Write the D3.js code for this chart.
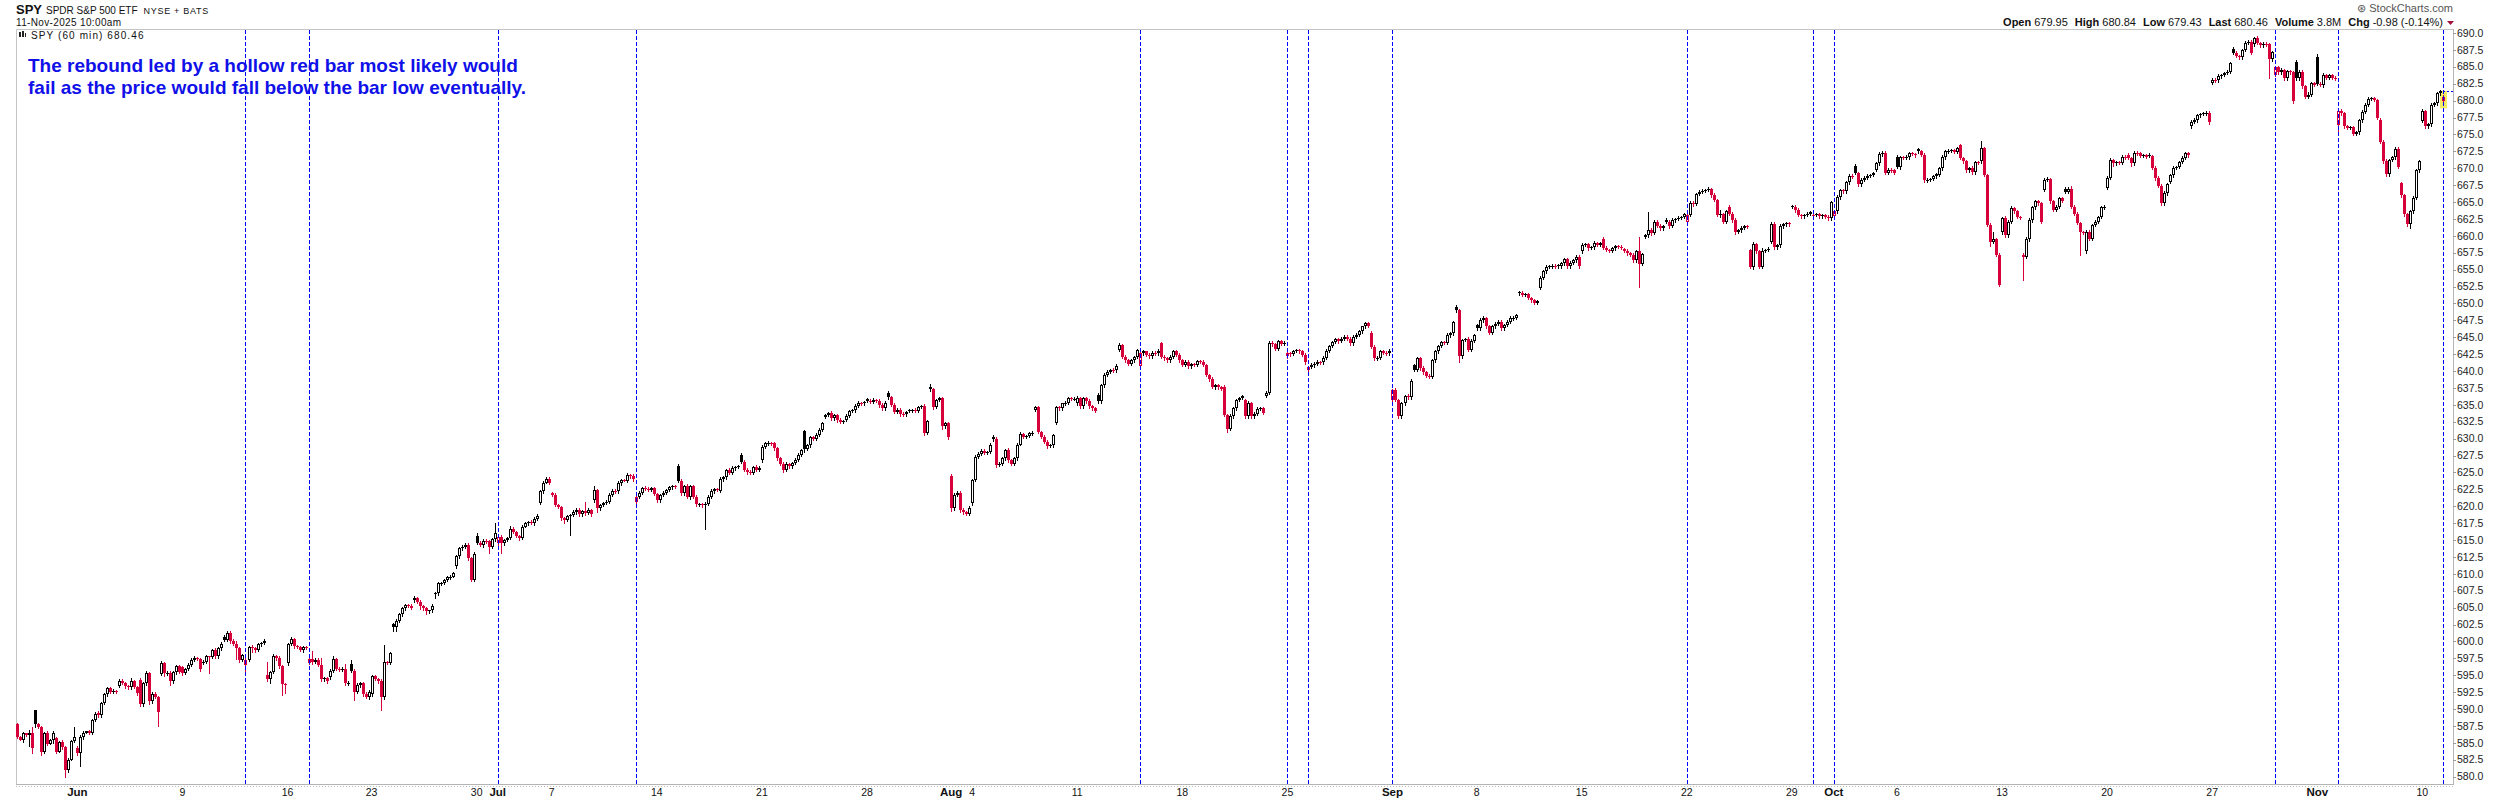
<!DOCTYPE html>
<html>
<head>
<meta charset="utf-8">
<script src="https://cdn.jsdelivr.net/npm/d3@7"></script>
<style>
  body { margin: 0; background: #fff; }
  svg text { font-family: "Liberation Sans", Arial, sans-serif; }
</style>
</head>
<body>
<div class="chart"></div>
<script>
// trading sessions shown (2025), one row of hourly bars per session
const sessionDates = ["05-28","05-29","05-30",
  "06-02","06-03","06-04","06-05","06-06","06-09","06-10","06-11","06-12","06-13","06-16","06-17","06-18","06-20","06-23","06-24","06-25","06-26","06-27","06-30",
  "07-01","07-02","07-03","07-07","07-08","07-09","07-10","07-11","07-14","07-15","07-16","07-17","07-18","07-21","07-22","07-23","07-24","07-25","07-28","07-29","07-30","07-31",
  "08-01","08-04","08-05","08-06","08-07","08-08","08-11","08-12","08-13","08-14","08-15","08-18","08-19","08-20","08-21","08-22","08-25","08-26","08-27","08-28","08-29",
  "09-02","09-03","09-04","09-05","09-08","09-09","09-10","09-11","09-12","09-15","09-16","09-17","09-18","09-19","09-22","09-23","09-24","09-25","09-26","09-29","09-30",
  "10-01","10-02","10-03","10-06","10-07","10-08","10-09","10-10","10-13","10-14","10-15","10-16","10-17","10-20","10-21","10-22","10-23","10-24","10-27","10-28","10-29","10-30","10-31",
  "11-03","11-04","11-05","11-06","11-07","11-10","11-11"];

// open of the first bar of each session (later bars open at the previous close)
const sessionOpens = [587.8,589.8,585.7,
  584.3,589.4,593.4,594.3,595.2,596.2,596.8,600.7,596.5,595.0,596.8,596.8,594.8,596.7,592.3,602.6,606.1,607.1,611.1,615.6,
  614.5,615.6,620.5,621.9,618.7,620.9,622.3,620.7,621.8,625.9,620.3,622.3,627.6,626.8,626.3,631.1,633.2,632.8,635.8,636.7,634.2,637.7,
  624.5,620.5,630.3,626.3,634.3,632.3,635.2,636.5,643.1,640.8,644.1,641.6,641.4,637.7,635.7,636.3,642.2,640.2,643.0,644.8,645.7,
  635.7,640.9,641.6,649.5,646.8,647.0,651.7,652.3,655.5,657.7,659.6,658.0,659.9,662.4,662.1,667.0,664.3,657.9,659.1,664.4,663.0,
  663.0,670.3,669.8,671.6,672.8,669.0,673.4,671.0,660.5,657.2,666.8,667.0,657.7,667.1,672.0,672.0,668.0,676.2,682.6,687.7,688.3,683.8,685.7,
  686.4,676.4,675.3,677.2,667.8,677.0,679.95];

// hourly closes
const closesMay = [
  [585.9,585.5,586.4,586.2,586.4,584.2],
  [587.8,587.4,583.7,586.4,584.9,585.4,586.5],
  [583.7,585.2,584.4,581.0,582.5,585.3,585.9]];
const closesJun = [
  [583.5,585.8,586.5,586.7,586.5,588.4,589.3],
  [589.1,590.9,592.2,593.1,592.6,592.7,592.6],
  [594.2,593.9,593.4,593.2,594.1,593.3,592.4],
  [590.8,593.8,595.3,591.2,592.3,591.8,589.5],
  [596.8,595.3,595.4,594.1,595.5,596.3,595.5],
  [595.4,595.9,596.5,597.3,597.5,597.4,596.0],
  [597.0,597.8,597.7,598.7,597.8,599.0,599.7],
  [600.2,601.2,600.0,599.7,599.0,597.3,598.0],
  [597.3,599.2,599.0,598.8,599.6,599.8,600.1],
  [594.5,595.5,597.8,597.5,596.3,593.7,593.6],
  [599.6,600.3,599.3,599.2,598.8,599.2,599.1],
  [597.4,597.0,597.3,596.5,594.5,594.6,594.1],
  [595.7,597.4,596.0,595.9,596.0,593.8,593.9],
  [595.7,592.6,593.6,593.8,592.3,591.8,592.6],
  [594.9,594.5,594.1,591.8,596.9,596.8,598.3],
  [602.2,603.1,604.0,604.9,605.4,605.3,605.0],
  [606.4,605.9,605.2,604.9,604.5,604.6,605.3],
  [607.1,608.6,608.7,609.1,609.5,609.6,610.1],
  [612.6,613.8,614.0,614.3,612.3,609.1,613.0],
  [614.6,614.3,614.9,614.8,614.0,615.1,616.1]];
const closesJul = [
  [615.5,614.5,615.0,615.3,616.7,616.2,615.6],
  [615.3,617.0,617.5,617.7,617.5,618.1,618.6],
  [622.2,623.5,624.1,623.5],
  [621.7,620.2,619.9,618.2,618.0,618.5,618.7],
  [619.2,619.5,618.8,619.3,619.0,619.4,618.8],
  [622.4,619.7,620.2,620.5,620.7,621.7,622.3],
  [622.2,623.4,623.9,623.8,624.6,624.5,624.0],
  [621.4,622.0,622.7,622.6,622.4,622.7,621.8],
  [620.9,621.7,622.0,622.4,622.8,623.0,622.9],
  [623.8,621.9,623.0,621.4,623.0,621.4,620.3],
  [620.3,620.2,620.4,621.4,622.2,622.5,622.4],
  [624.1,624.3,625.4,624.9,625.6,625.8,625.9],
  [626.6,625.4,625.1,624.9,625.8,625.4,625.7],
  [628.8,629.3,629.4,629.3,628.6,627.1,626.3],
  [625.4,626.2,625.9,626.4,626.9,627.6,628.3],
  [628.5,629.0,630.2,630.0,630.6,631.3,632.3],
  [633.5,633.8,633.0,633.5,632.8,632.5,632.6],
  [633.4,634.1,634.2,634.9,635.3,635.2,635.4],
  [635.6,635.4,635.7,635.6,635.0,634.5,635.3],
  [636.1,635.0,634.0,634.3,633.7,633.6,633.9],
  [634.2,634.3,634.1,634.7,634.8,630.9,632.6],
  [637.3,634.7,635.7,636.0,631.8,632.3,630.2]];
const closesAug = [
  [619.7,621.7,622.0,619.4,619.1,618.9,619.8],
  [623.9,627.3,627.8,628.2,627.9,628.1,629.1],
  [629.9,626.1,626.3,627.1,628.3,626.8,626.3],
  [627.1,629.1,630.7,630.3,630.4,630.8,630.9],
  [634.7,631.0,630.3,629.5,628.9,629.0,630.5],
  [634.7,634.5,635.2,635.3,636.0,635.9,635.9],
  [636.0,634.8,636.0,635.5,634.8,634.5,634.1],
  [635.5,637.9,639.4,639.9,640.2,640.1,640.8],
  [643.8,642.1,641.6,641.1,641.6,642.1,643.1],
  [642.6,642.9,642.4,642.2,642.7,642.6,643.0],
  [642.1,641.9,641.6,642.1,642.9,642.4,641.6],
  [640.9,641.4,640.7,641.0,640.9,641.5,641.4],
  [640.9,639.4,638.8,637.7,637.9,637.6,637.4],
  [633.5,631.5,633.3,634.5,635.7,636.0,636.3],
  [633.3,635.2,633.3,633.7,634.4,634.5,633.8],
  [636.8,644.2,644.0,643.3,644.4,644.0,644.1],
  [642.6,642.5,643.0,643.1,642.9,642.4,641.3],
  [640.6,640.9,641.1,641.4,641.3,642.0,643.0],
  [643.7,644.3,644.7,644.5,644.8,645.1,644.8],
  [644.1,645.1,645.4,645.9,646.6,647.1,646.7],
  [643.6,641.9,642.0,642.9,642.7,642.6,643.0]];
const closesSep = [
  [637.2,635.7,633.3,635.2,636.3,636.1,638.6],
  [640.2,641.9,640.4,639.8,639.3,639.1,641.6],
  [642.9,643.7,644.3,644.2,645.3,645.6,647.2],
  [649.0,642.2,644.6,644.7,643.1,644.5,645.3],
  [646.3,647.6,647.8,646.6,645.7,646.6,647.0],
  [647.3,646.3,646.8,647.3,647.8,647.9,648.3],
  [651.5,651.3,651.4,650.8,650.5,650.1,650.3],
  [653.8,654.8,655.4,655.5,655.6,655.5,655.7],
  [656.0,656.5,655.5,656.0,656.4,656.9,655.5],
  [658.7,658.8,658.2,658.3,658.9,658.7,658.9],
  [658.2,657.9,657.8,658.2,658.5,658.4,658.2],
  [657.8,657.4,657.2,656.4,657.7,655.9,657.3],
  [660.1,660.9,660.4,662.1,661.5,661.1,661.4],
  [662.1,661.5,662.3,662.5,662.7,662.8,663.2],
  [663.1,664.9,664.7,666.2,666.5,666.7,666.8],
  [666.9,666.1,665.3,663.1,663.2,662.1,663.6],
  [663.3,662.3,660.6,660.8,661.2,661.4,661.3],
  [655.4,658.8,657.7,655.4,657.8,657.9,658.1],
  [661.8,658.3,658.6,661.4,661.7,661.9,661.7],
  [664.3,663.8,663.1,662.9,663.1,663.3,663.5],
  [663.1,663.2,662.9,663.1,662.8,662.6,665.0]];
const closesOct = [
  [663.6,665.7,666.8,666.6,667.9,668.9,668.7],
  [669.3,667.6,668.3,668.6,668.9,669.0,669.3],
  [670.7,672.1,672.3,669.3,669.8,669.7,669.3],
  [670.2,671.6,671.5,671.7,672.2,672.1,671.9],
  [672.5,672.0,668.2,668.3,668.4,668.8,669.1],
  [670.0,671.6,672.5,672.6,672.7,672.4,673.0],
  [671.5,671.0,669.7,670.0,669.4,670.9,670.8],
  [673.0,669.0,661.6,659.1,659.5,657.2,652.8],
  [662.6,660.1,662.1,664.1,663.6,662.8,662.7],
  [656.9,659.6,662.3,664.2,665.1,664.8,662.1],
  [668.3,668.4,665.1,663.8,664.3,665.6,665.2],
  [666.5,667.0,664.3,663.3,661.9,660.5,660.4],
  [660.6,659.6,661.6,662.1,662.8,664.2,664.3],
  [668.6,671.2,670.7,670.9,670.8,671.7,671.6],
  [671.5,670.7,672.3,672.2,671.8,671.9,671.7],
  [671.8,670.1,668.6,667.4,664.8,666.3,667.6],
  [669.0,670.1,670.2,670.9,671.5,672.2,671.9],
  [676.9,677.1,677.8,678.0,678.1,678.2,676.8],
  [683.1,683.0,683.6,683.8,684.1,684.3,685.5],
  [687.1,686.6,686.4,687.5,688.5,688.7,687.1],
  [689.2,688.5,688.2,688.4,688.3,686.1,687.2],
  [684.9,684.2,684.5,683.3,684.4,684.2,679.9],
  [683.3,684.3,682.1,680.6,680.9,682.6,682.3]];
const closesNov = [
  [682.5,682.3,683.8,683.4,683.8,683.4,683.3],
  [678.5,678.1,676.2,676.0,676.1,675.1,675.3],
  [677.1,678.3,679.4,680.3,680.4,680.1,677.5],
  [673.9,671.0,669.1,671.2,671.6,672.9,670.2],
  [666.0,663.2,661.7,663.6,665.6,669.7,671.0],
  [678.4,676.2,676.5,679.4,679.6,681.1,681.4],
  [680.46]];

// wick length above / below the body, tenths of a dollar, one base-36 char per bar
const wickUp = ["21215a","1212323","212231f",
  "2321212","3222221","2212521","3242322","3232222","2232322","2212322","2333422","2232212","j232322","2322221","2c32a22","2422262","5232232","2213q22","2222122","3222212","2212222","2232222","422222e",
  "2222422","2321232","2232","2221222","3232d32","6222222","2312323","2223322","2122212","3223222","2222322","2212322","3222232","2221222","2322232","2222232","2232222","2222212","2232222","3222222","2122232","4222222",
  "3222422","2322212","2322232","2232122","2222322","2212222","3222322","2232122","3222212","2212322","2322222","2322212","2223222","2232122","2422322","2322223","2212222","2322122","2222322","2232122","2322222",
  "2322232","2223222","2122322","3222322","2232222","2222322","2322122","2232222","2223222","2222322","2322222","23222m2","2q22222","2232222","2322322","2222622","2232222","2322422","2223222","2232222","2222232",
  "2322232","3222222","2322322","3222222","2232222","2322222","2222322","a223a22","2323222","2232222","2322322","2232222","3222222","2322222","2232222","3222232","2222322","2322222","2232222","2222322","2322222","2232222","3222322",
  "5232222","3222222","2322222","2232222","2222322","3222222","4"];
const wickDown = ["2132h7","5252214","213a312",
  "3j21222","2312222","1232323","432532k","2436232","3212223","22n2322","2222g42","8254222","37232gc","3122242","2322332","3223222","2d23423","322j322","6622222","2243432","6222221","2222322","2232922",
  "7e22222","3212122","2212","222252r","2322322","2622222","2221232","6222222","3222122","2222322","23z2222","2322222","2232222","2222322","3222222","5222222","2222322","2212222","2222322","2222322","2222242","2322322",
  "4222322","3222222","2322322","2212222","2222322","2232222","2222322","2322222","2232222","2322222","2232222","2223222","2222322","2522222","2322222","2232222","2322222","2232222","2223222","2322222","2232222",
  "3222222","2232222","2322222","2822222","2232222","2322222","2222322","2232222","2322222","2232222","2222322","22222y2","2232222","2322222","2232222","2322322","2232222","2322222","2232222","2322222","2232222",
  "3222222","2322222","2232222","2322322","2232222","2322222","2232222","3226222","2322222","z232222","2232222","22222x2","3222222","2232222","2322222","2232222","2322222","2232222","2322222","2232222","22222s2","2223222","2322222",
  "2232222","f222222","2322222","2232222","2226222","2232222","5"];

// x axis labels: first session of each week / month
const weekTicks = [["06-02","Jun"],["06-09","9"],["06-16","16"],["06-23","23"],["06-30","30"],["07-01","Jul"],
  ["07-07","7"],["07-14","14"],["07-21","21"],["07-28","28"],["08-01","Aug"],["08-04","4"],["08-11","11"],
  ["08-18","18"],["08-25","25"],["09-02","Sep"],["09-08","8"],["09-15","15"],["09-22","22"],["09-29","29"],
  ["10-01","Oct"],["10-06","6"],["10-13","13"],["10-20","20"],["10-27","27"],["11-03","Nov"],["11-10","10"]];

// sessions whose opening bar is marked with a dashed line
const markerDates = ["06-12","06-17","07-01","07-11","08-14","08-25","08-26","09-02","09-22","09-30","10-01","10-30","11-04","11-11"];

// y axis labels
const priceTicks = d3.range(580, 690.01, 2.5);

const quoteItems = [["Open","679.95"],["High","680.84"],["Low","679.43"],["Last","680.46"],["Volume","3.8M"],["Chg","-0.98 (-0.14%)"]];

function init(){

    const w = 2500, h = 800;
    const left = 16, right = 2453, top = 29, bottom = 784;
    const red = "#d6003a";

    const svg = d3.select(".chart").append("svg").attr("width", w).attr("height", h);

    // build hourly bars from the session rows
    const rows = [].concat(closesMay, closesJun, closesJul, closesAug, closesSep, closesOct, closesNov);
    const bars = [];
    const firstBar = {};
    rows.forEach(function(row, d){
        firstBar[sessionDates[d]] = bars.length;
        let open = sessionOpens[d];
        row.forEach(function(close, k){
            const prev = bars.length ? bars[bars.length - 1].close : open;
            const up = parseInt(wickUp[d][k] || "0", 36) / 10;
            const dn = parseInt(wickDown[d][k] || "0", 36) / 10;
            bars.push({
                i: bars.length, open: open, close: close, prev: prev,
                high: Math.max(open, close) + up,
                low: Math.min(open, close) - dn
            });
            open = close;
        });
    });

    const x = d3.scaleLinear().domain([0, bars.length - 1]).range([17.3, 2443.4]);
    const y = d3.scaleLinear().domain([580, 690]).range([776.7, 33]);

    // frame
    svg.append("path")
        .attr("d", `M${left + 0.5},${bottom} V${top + 0.5} H${right}`)
        .attr("fill", "none").attr("stroke", "#c4c4c4");
    svg.append("line")
        .attr("x1", right + 0.5).attr("x2", right + 0.5).attr("y1", top).attr("y2", bottom + 1)
        .attr("stroke", "#b4b4b4");
    svg.append("line")
        .attr("x1", left).attr("x2", right).attr("y1", bottom + 0.5).attr("y2", bottom + 0.5)
        .attr("stroke", "#b4b4b4");
    svg.append("line")
        .attr("x1", left).attr("x2", right).attr("y1", bottom + 2.5).attr("y2", bottom + 2.5)
        .attr("stroke", "#bdbdbd").attr("stroke-dasharray", "1,2");

    // y axis labels
    const yAxis = svg.append("g");
    yAxis.selectAll("line").data(priceTicks).join("line")
        .attr("x1", right).attr("x2", right + 3)
        .attr("y1", d => Math.round(y(d)) + 0.5).attr("y2", d => Math.round(y(d)) + 0.5)
        .attr("stroke", "#9a9a9a");
    yAxis.selectAll("text").data(priceTicks).join("text")
        .attr("x", right + 4).attr("y", d => y(d))
        .attr("dy", "0.35em")
        .attr("font-size", 10.5).attr("fill", "#222")
        .text(d => d.toFixed(1));

    // x axis labels
    svg.append("g").selectAll("text").data(weekTicks).join("text")
        .attr("x", d => x(firstBar[d[0]]))
        .attr("y", 796)
        .attr("text-anchor", "middle")
        .attr("font-size", d => isNaN(+d[1]) ? 11.5 : 10.5)
        .attr("font-weight", d => isNaN(+d[1]) ? "bold" : "normal")
        .style("font-family", d => isNaN(+d[1]) ? "'Liberation Sans Narrow', 'Liberation Sans', Arial" : null)
        .attr("fill", "#111")
        .text(d => d[1]);

    // highlight of the latest bar
    const last = bars[bars.length - 1];
    const lx = Math.round(x(last.i));
    svg.append("rect")
        .attr("x", lx - 3).attr("y", y(last.high) - 4)
        .attr("width", 7).attr("height", y(last.low) - y(last.high) + 8)
        .attr("fill", "#f4ec62");

    // candles
    const g = svg.append("g").attr("shape-rendering", "crispEdges");
    const candle = g.selectAll("g").data(bars).join("g");
    const colorOf = d => d.close < d.prev ? red : "#000";

    candle.append("line")
        .attr("x1", d => Math.round(x(d.i)) + 0.5).attr("x2", d => Math.round(x(d.i)) + 0.5)
        .attr("y1", d => Math.round(y(d.high))).attr("y2", d => Math.round(y(d.low)) + 1)
        .attr("stroke", colorOf);

    candle.append("rect")
        .each(function(d){
            const px = Math.round(x(d.i));
            const t = Math.round(y(Math.max(d.open, d.close)));
            const b = Math.round(y(Math.min(d.open, d.close)));
            const hh = Math.max(1, b - t);
            const filled = d.close < d.open;
            const sel = d3.select(this);
            if (filled || hh < 3) {
                sel.attr("x", px - 1).attr("y", t).attr("width", 3).attr("height", hh)
                   .attr("fill", colorOf(d));
            } else {
                sel.attr("x", px - 0.5).attr("y", t + 0.5).attr("width", 2).attr("height", hh - 1)
                   .attr("fill", "#fff").attr("stroke", colorOf(d));
            }
        });

    // dashed markers at the selected opening bars
    svg.append("g").attr("shape-rendering", "crispEdges")
        .selectAll("line").data(markerDates).join("line")
        .attr("x1", d => Math.round(x(firstBar[d])) + 0.5)
        .attr("x2", d => Math.round(x(firstBar[d])) + 0.5)
        .attr("y1", top + 1).attr("y2", bottom)
        .attr("stroke", "#0000ff").attr("stroke-width", 1)
        .attr("stroke-dasharray", "4,2");

    // previous close level next to the latest bar
    const prevClose = bars[bars.length - 2].close;
    svg.append("line").attr("shape-rendering", "crispEdges")
        .attr("x1", lx).attr("x2", right)
        .attr("y1", Math.round(y(prevClose)) + 0.5).attr("y2", Math.round(y(prevClose)) + 0.5)
        .attr("stroke", "#0000ff").attr("stroke-dasharray", "2,2");

    // header, left
    const head = svg.append("text").attr("x", 16).attr("y", 13.5).attr("fill", "#111");
    head.append("tspan").attr("font-weight", "bold").attr("font-size", 13).text("SPY");
    head.append("tspan").attr("dx", 4).attr("font-size", 10).text("SPDR S&P 500 ETF");
    head.append("tspan").attr("dx", 6).attr("font-size", 9).attr("letter-spacing", 0.7).text("NYSE + BATS");

    svg.append("text").attr("x", 16).attr("y", 26).attr("font-size", 10)
        .attr("letter-spacing", 0.35).attr("fill", "#111")
        .text("11-Nov-2025 10:00am");

    // small candle icon + series label
    const icon = svg.append("g").attr("shape-rendering", "crispEdges");
    icon.append("rect").attr("x", 19).attr("y", 32).attr("width", 2).attr("height", 5).attr("fill", "#222");
    icon.append("rect").attr("x", 22).attr("y", 31).attr("width", 2).attr("height", 6).attr("fill", "#222");
    icon.append("rect").attr("x", 25).attr("y", 33).attr("width", 1).attr("height", 4).attr("fill", "#222");
    svg.append("text").attr("x", 31).attr("y", 38.5).attr("font-size", 10)
        .attr("letter-spacing", 1.1).attr("fill", "#111")
        .text("SPY (60 min) 680.46");

    // annotation
    const note = svg.append("text").attr("font-size", 19).attr("font-weight", "bold").attr("fill", "#1010e8");
    note.append("tspan").attr("x", 28).attr("y", 72)
        .text("The rebound led by a hollow red bar most likely would");
    note.append("tspan").attr("x", 28).attr("y", 94)
        .text("fail as the price would fall below the bar low eventually.");

    // header, right
    svg.append("text").attr("x", right).attr("y", 12).attr("text-anchor", "end")
        .attr("font-size", 11).attr("fill", "#555")
        .text("\u229B StockCharts.com");

    const quote = svg.append("text").attr("x", 2443).attr("y", 26).attr("text-anchor", "end")
        .attr("font-size", 11).attr("fill", "#111");
    quoteItems.forEach(function(q, k){
        quote.append("tspan").attr("dx", k ? 7 : 0).attr("font-weight", "bold").text(q[0]);
        quote.append("tspan").attr("dx", 3).text(q[1]);
    });
    svg.append("path").attr("d", "M2447,21 L2454,21 L2450.5,25 Z").attr("fill", "#a0103a");
}
window.onload = init;
</script>
</body>
</html>
